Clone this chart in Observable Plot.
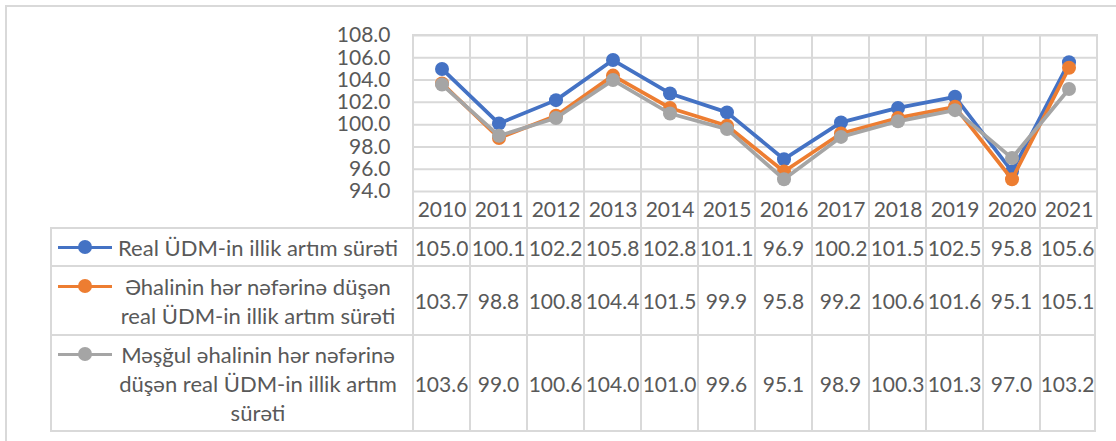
<!DOCTYPE html>
<html>
<head>
<meta charset="utf-8">
<script src="https://cdn.jsdelivr.net/npm/d3@7"></script>
<script src="https://cdn.jsdelivr.net/npm/@observablehq/plot@0.6"></script>
<style>
  html, body { margin: 0; padding: 0; background: #fff; }
  body { width: 1116px; height: 441px; overflow: hidden; position: relative; font-family: Lato, "Open Sans", sans-serif; color: #595959; }
  #frame { position: absolute; left: 5px; top: 5px; width: 1200px; height: 600px; border-left: 2px solid #d9d9d9; border-top: 2px solid #d9d9d9; }
  #chart { position: absolute; left: 0; top: 0; }
  #table { position: absolute; }
  .row { display: grid; }
  .cell { box-sizing: border-box; border-left: 2px solid #d9d9d9; border-top: 2px solid #d9d9d9; display: flex; align-items: center; justify-content: center; font-size: 21px; line-height: 29px; white-space: nowrap; }
  .cell.last { border-right: 2px solid #d9d9d9; }
  .row.lastrow .cell { border-bottom: 2px solid #d9d9d9; }
  .legendcell { justify-content: flex-start; }
  .lg { display: flex; align-items: flex-start; width: 100%; }
  .key { position: relative; flex: 0 0 54px; height: 29px; margin-left: 6px; }
  .key .ln { position: absolute; left: 0; right: 0; top: 13px; height: 3.5px; }
  .key .dt { position: absolute; left: 20px; top: 7.5px; width: 14px; height: 14px; border-radius: 50%; }
  .lbl { flex: 1; text-align: center; padding-right: 8px; font-size: 22px; }
</style>
</head>
<body>
<div id="frame"></div>
<div id="chart"></div>
<div id="table"></div>
<script>
// ---- data ----
const years = [2010, 2011, 2012, 2013, 2014, 2015, 2016, 2017, 2018, 2019, 2020, 2021];
const realGdp = [105.0, 100.1, 102.2, 105.8, 102.8, 101.1, 96.9, 100.2, 101.5, 102.5, 95.8, 105.6];
const perCapita = [103.7, 98.8, 100.8, 104.4, 101.5, 99.9, 95.8, 99.2, 100.6, 101.6, 95.1, 105.1];
const perEmployed = [103.6, 99.0, 100.6, 104.0, 101.0, 99.6, 95.1, 98.9, 100.3, 101.3, 97.0, 103.2];
const seriesNames = [
  "Real ÜDM-in illik artım sürəti",
  "Əhalinin hər nəfərinə düşən real ÜDM-in illik artım sürəti",
  "Məşğul əhalinin hər nəfərinə düşən real ÜDM-in illik artım sürəti"
];
const seriesLabelLines = [
  ["Real ÜDM-in illik artım sürəti"],
  ["Əhalinin hər nəfərinə düşən", "real ÜDM-in illik artım sürəti"],
  ["Məşğul əhalinin hər nəfərinə", "düşən real ÜDM-in illik artım", "sürəti"]
];
const seriesColors = ["#4472C4", "#ED7D31", "#A5A5A5"];
const yTicks = [94, 96, 98, 100, 102, 104, 106, 108];

// ---- layout ----
const W = 1116, H = 228;
const mTop = 35, mBottom = 37, mLeft = 412, mRight = 19;
const tableLeft = 51;
const rowHeights = [38, 69, 96];
const grid = "#d9d9d9";

const seriesValues = [realGdp, perCapita, perEmployed];
const rows = seriesValues.map((vals, s) => years.map((year, i) => ({series: seriesNames[s], year, value: vals[i]})));

const marks = [
  Plot.gridY(yTicks, {stroke: grid, strokeOpacity: 1, strokeWidth: 2}),
  Plot.cell(years, {x: d => d, fill: "none", stroke: grid, strokeWidth: 2, inset: 0, insetBottom: -mBottom}),
  Plot.axisY(yTicks, {tickSize: 0, tickPadding: 22, tickFormat: d => d.toFixed(1), fontSize: 21, label: null}),
  Plot.axisX({tickSize: 0, tickPadding: 11, tickFormat: d => String(d), fontSize: 21, label: null})
];
rows.forEach((r, s) => {
  marks.push(Plot.line(r, {x: "year", y: "value", stroke: seriesColors[s], strokeWidth: 3.75, strokeLinejoin: "round"}));
  marks.push(Plot.dot(r, {x: "year", y: "value", fill: seriesColors[s], r: 7}));
});

const chart = Plot.plot({
  width: W, height: H,
  marginTop: mTop, marginBottom: mBottom, marginLeft: mLeft, marginRight: mRight,
  x: {type: "band", domain: years, padding: 0, label: null},
  y: {domain: [94, 108], label: null},
  style: {fontFamily: "Lato, 'Open Sans', sans-serif", fontSize: "21px", color: "#595959", background: "transparent", overflow: "visible"},
  marks
});
document.getElementById("chart").appendChild(chart);

// ---- data table aligned with the chart's x scale ----
const xs = chart.scale("x");
const bw = xs.bandwidth;
const firstX = xs.apply(years[0]);
const table = document.getElementById("table");
table.style.left = (tableLeft - 1) + "px";
table.style.top = (H - 1) + "px";
const cols = `${firstX - tableLeft}px repeat(${years.length}, ${bw}px)`;

seriesValues.forEach((vals, s) => {
  const row = document.createElement("div");
  row.className = "row" + (s === seriesValues.length - 1 ? " lastrow" : "");
  row.style.gridTemplateColumns = cols;
  row.style.height = (rowHeights[s] + (s === seriesValues.length - 1 ? 2 : 0)) + "px";
  const lc = document.createElement("div");
  lc.className = "cell legendcell";
  const lg = document.createElement("div");
  lg.className = "lg";
  const key = document.createElement("div");
  key.className = "key";
  const ln = document.createElement("div"); ln.className = "ln"; ln.style.background = seriesColors[s];
  const dt = document.createElement("div"); dt.className = "dt"; dt.style.background = seriesColors[s];
  key.appendChild(ln); key.appendChild(dt);
  const lbl = document.createElement("div");
  lbl.className = "lbl";
  lbl.innerHTML = seriesLabelLines[s].join("<br>");
  lbl.title = seriesNames[s];
  lg.appendChild(key); lg.appendChild(lbl);
  lc.appendChild(lg);
  row.appendChild(lc);
  vals.forEach((v, i) => {
    const c = document.createElement("div");
    c.className = "cell" + (i === vals.length - 1 ? " last" : "");
    c.textContent = v.toFixed(1);
    row.appendChild(c);
  });
  table.appendChild(row);
});
</script>
</body>
</html>
